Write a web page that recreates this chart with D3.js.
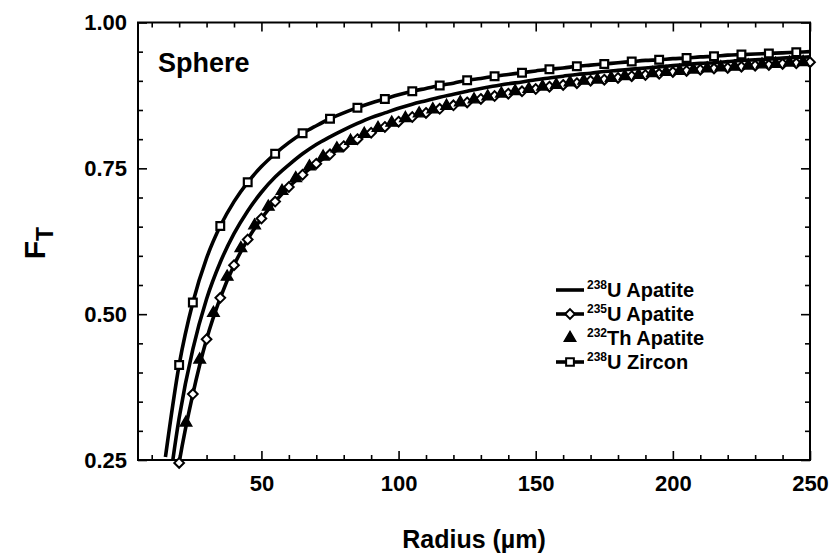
<!DOCTYPE html>
<html>
<head>
<meta charset="utf-8">
<script src="https://cdn.jsdelivr.net/npm/d3@7"></script>
<style>
  body { margin: 0; background: #fff; }
  text { font-family: "Liberation Sans", Arial, Helvetica, sans-serif; fill: #000; }
</style>
</head>
<body>
<script>
// radius (um) for the three line series
var radius = [15, 20, 25, 30, 35, 40, 45, 50, 55, 60, 65, 70, 75, 80, 85, 90, 95, 100,
  105, 110, 115, 120, 125, 130, 135, 140, 145, 150, 155, 160, 165, 170, 175, 180, 185,
  190, 195, 200, 205, 210, 215, 220, 225, 230, 235, 240, 245, 250];

var u238Apatite = [0.157, 0.322, 0.440, 0.526, 0.589, 0.638, 0.677, 0.709, 0.735, 0.756,
  0.775, 0.791, 0.804, 0.816, 0.827, 0.837, 0.845, 0.853, 0.860, 0.866, 0.872, 0.877,
  0.882, 0.887, 0.891, 0.895, 0.898, 0.902, 0.905, 0.908, 0.911, 0.913, 0.916, 0.918,
  0.920, 0.922, 0.924, 0.926, 0.928, 0.930, 0.931, 0.933, 0.935, 0.936, 0.937, 0.939,
  0.940, 0.941];

var u235Apatite = [0.079, 0.245, 0.363, 0.457, 0.528, 0.584, 0.628, 0.664, 0.693, 0.718,
  0.739, 0.758, 0.774, 0.788, 0.800, 0.811, 0.821, 0.830, 0.838, 0.845, 0.852, 0.858,
  0.863, 0.869, 0.874, 0.878, 0.882, 0.886, 0.890, 0.893, 0.896, 0.900, 0.902, 0.905,
  0.908, 0.910, 0.912, 0.915, 0.917, 0.919, 0.921, 0.922, 0.924, 0.926, 0.927, 0.929,
  0.930, 0.932];

var u238Zircon = [0.255, 0.413, 0.520, 0.596, 0.651, 0.693, 0.726, 0.753, 0.775, 0.794,
  0.810, 0.823, 0.835, 0.845, 0.854, 0.862, 0.869, 0.876, 0.882, 0.887, 0.892, 0.896,
  0.901, 0.904, 0.908, 0.911, 0.914, 0.917, 0.920, 0.922, 0.925, 0.927, 0.929, 0.931,
  0.933, 0.935, 0.936, 0.938, 0.939, 0.941, 0.942, 0.944, 0.945, 0.946, 0.947, 0.948,
  0.949, 0.950];

// Th points sit between the 235U points
var thRadius = [22.5, 27.5, 32.5, 37.5, 42.5, 47.5, 52.5, 57.5, 62.5, 67.5, 72.5, 77.5,
  82.5, 87.5, 92.5, 97.5, 102.5, 107.5, 112.5, 117.5, 122.5, 127.5, 132.5, 137.5, 142.5,
  147.5, 152.5, 157.5, 162.5, 167.5, 172.5, 177.5, 182.5, 187.5, 192.5, 197.5, 202.5,
  207.5, 212.5, 217.5, 222.5, 227.5, 232.5, 237.5, 242.5, 247.5];
var th232Apatite = [0.314, 0.422, 0.502, 0.564, 0.613, 0.652, 0.684, 0.711, 0.733, 0.753,
  0.770, 0.784, 0.797, 0.809, 0.819, 0.828, 0.836, 0.844, 0.851, 0.857, 0.863, 0.868,
  0.873, 0.878, 0.882, 0.886, 0.890, 0.893, 0.897, 0.900, 0.902, 0.905, 0.908, 0.910,
  0.913, 0.915, 0.917, 0.919, 0.921, 0.923, 0.924, 0.926, 0.928, 0.929, 0.931, 0.932];

// radii where the zircon squares are drawn
var zirconMarks = [20, 25, 35, 45, 55, 65, 75, 85, 95, 105, 115, 125, 135, 145, 155, 165,
  175, 185, 195, 205, 215, 225, 235, 245];

var xMajor = [50, 100, 150, 200, 250];
var xMinor = [10, 20, 30, 40, 60, 70, 80, 90, 110, 120, 130, 140, 160, 170, 180, 190,
  210, 220, 230, 240];
var yMajor = [0.25, 0.50, 0.75, 1.00];
var yMinor = [0.30, 0.35, 0.40, 0.45, 0.55, 0.60, 0.65, 0.70, 0.80, 0.85, 0.90, 0.95];

var legendItems = [
  { iso: "238", name: "U Apatite", line: true, marker: null },
  { iso: "235", name: "U Apatite", line: true, marker: "diamond" },
  { iso: "232", name: "Th Apatite", line: false, marker: "triangle" },
  { iso: "238", name: "U Zircon", line: true, marker: "square" }
];

var W = 833, H = 557;
var plot = { left: 138, right: 810, top: 22.5, bottom: 460 };

var svg = d3.select("body").append("svg")
  .attr("width", W)
  .attr("height", H);

var x = d3.scaleLinear().domain([5, 250]).range([plot.left, plot.right]);
var y = d3.scaleLinear().domain([0.25, 1.0]).range([plot.bottom, plot.top]);

svg.append("clipPath").attr("id", "clip")
  .append("rect")
  .attr("x", plot.left).attr("y", plot.top)
  .attr("width", plot.right - plot.left)
  .attr("height", plot.bottom - plot.top);

// axes, ticks pointing inwards
function addAxis(axis, tx, ty) {
  var g = svg.append("g")
    .attr("transform", "translate(" + tx + "," + ty + ")")
    .call(axis);
  g.select(".domain").remove();
  g.selectAll(".tick line").attr("stroke", "#000").attr("stroke-width", 1.6);
  g.selectAll(".tick text")
    .style("font-family", "'Liberation Sans', Arial, sans-serif")
    .style("font-size", "22px")
    .style("font-weight", "bold")
    .attr("fill", "#000");
  return g;
}

addAxis(d3.axisBottom(x).tickValues(xMajor).tickSize(-9).tickPadding(15)
  .tickFormat(d3.format("d")), 0, plot.bottom);
addAxis(d3.axisBottom(x).tickValues(xMinor).tickSize(-5).tickFormat(""), 0, plot.bottom);
addAxis(d3.axisTop(x).tickValues(xMajor).tickSize(-9).tickFormat(""), 0, plot.top);
addAxis(d3.axisTop(x).tickValues(xMinor).tickSize(-5).tickFormat(""), 0, plot.top);

addAxis(d3.axisLeft(y).tickValues(yMajor).tickSize(-9).tickPadding(11)
  .tickFormat(d3.format(".2f")), plot.left, 0);
addAxis(d3.axisLeft(y).tickValues(yMinor).tickSize(-5).tickFormat(""), plot.left, 0);
addAxis(d3.axisRight(y).tickValues(yMajor).tickSize(-9).tickFormat(""), plot.right, 0);
addAxis(d3.axisRight(y).tickValues(yMinor).tickSize(-5).tickFormat(""), plot.right, 0);

svg.append("rect")
  .attr("x", plot.left).attr("y", plot.top)
  .attr("width", plot.right - plot.left)
  .attr("height", plot.bottom - plot.top)
  .attr("fill", "none")
  .attr("stroke", "#000")
  .attr("stroke-width", 2);

// lines
var lineGen = d3.line()
  .x(function (d) { return x(d[0]); })
  .y(function (d) { return y(d[1]); })
  .curve(d3.curveMonotoneX);

var lines = svg.append("g").attr("clip-path", "url(#clip)");
[u238Apatite, u235Apatite, u238Zircon].forEach(function (vals) {
  lines.append("path")
    .datum(d3.zip(radius, vals))
    .attr("d", lineGen)
    .attr("fill", "none")
    .attr("stroke", "#000")
    .attr("stroke-width", 3.6)
    .attr("stroke-linejoin", "round");
});

var diamond = d3.symbol().type(d3.symbolDiamond2).size(60);
var triangle = d3.symbol().type(d3.symbolTriangle).size(58);
var square = d3.symbol().type(d3.symbolSquare).size(60);

function drawMarkers(pts, sym, fill, sw) {
  svg.append("g").selectAll("path")
    .data(pts.filter(function (d) { return d[1] >= 0.24; }))
    .enter().append("path")
    .attr("transform", function (d) { return "translate(" + x(d[0]) + "," + y(d[1]) + ")"; })
    .attr("d", sym)
    .attr("fill", fill)
    .attr("stroke", "#000")
    .attr("stroke-width", sw);
}

drawMarkers(d3.zip(radius, u235Apatite).filter(function (d) { return d[0] >= 20; }),
  diamond, "#fff", 2);
drawMarkers(d3.zip(thRadius, th232Apatite), triangle, "#000", 1.4);
drawMarkers(d3.zip(radius, u238Zircon).filter(function (d) {
  return zirconMarks.indexOf(d[0]) >= 0;
}), square, "#fff", 2.2);

// labels
svg.append("text")
  .attr("x", 158).attr("y", 72)
  .style("font-size", "27px")
  .style("font-weight", "bold")
  .text("Sphere");

svg.append("text")
  .attr("x", (plot.left + plot.right) / 2).attr("y", 548)
  .attr("text-anchor", "middle")
  .style("font-size", "25px")
  .style("font-weight", "bold")
  .text("Radius (\u00b5m)");

var yTitle = svg.append("text")
  .attr("transform", "translate(45,243) rotate(-90)")
  .attr("text-anchor", "middle")
  .style("font-size", "30px")
  .style("font-weight", "bold");
yTitle.append("tspan").text("F");
yTitle.append("tspan").attr("dy", 8).style("font-size", "23px").text("T");

// legend
var legend = svg.append("g").attr("transform", "translate(556,290)");
var rows = legend.selectAll("g").data(legendItems).enter().append("g")
  .attr("transform", function (d, i) { return "translate(0," + i * 24 + ")"; });

rows.filter(function (d) { return d.line; }).append("line")
  .attr("x1", 0).attr("x2", 28).attr("y1", 0).attr("y2", 0)
  .attr("stroke", "#000").attr("stroke-width", 3.6);

rows.filter(function (d) { return d.marker; }).append("path")
  .attr("transform", "translate(14,0)")
  .attr("d", function (d) {
    return d.marker === "diamond" ? diamond() : d.marker === "triangle" ? triangle() : square();
  })
  .attr("fill", function (d) { return d.marker === "triangle" ? "#000" : "#fff"; })
  .attr("stroke", "#000")
  .attr("stroke-width", function (d) { return d.marker === "triangle" ? 1.4 : 2; });

var lt = rows.append("text")
  .attr("x", 31).attr("y", 7)
  .style("font-size", "20px")
  .style("font-weight", "bold");
lt.append("tspan").attr("dy", -8).style("font-size", "12px").text(function (d) { return d.iso; });
lt.append("tspan").attr("dy", 8).text(function (d) { return d.name; });
</script>
</body>
</html>
